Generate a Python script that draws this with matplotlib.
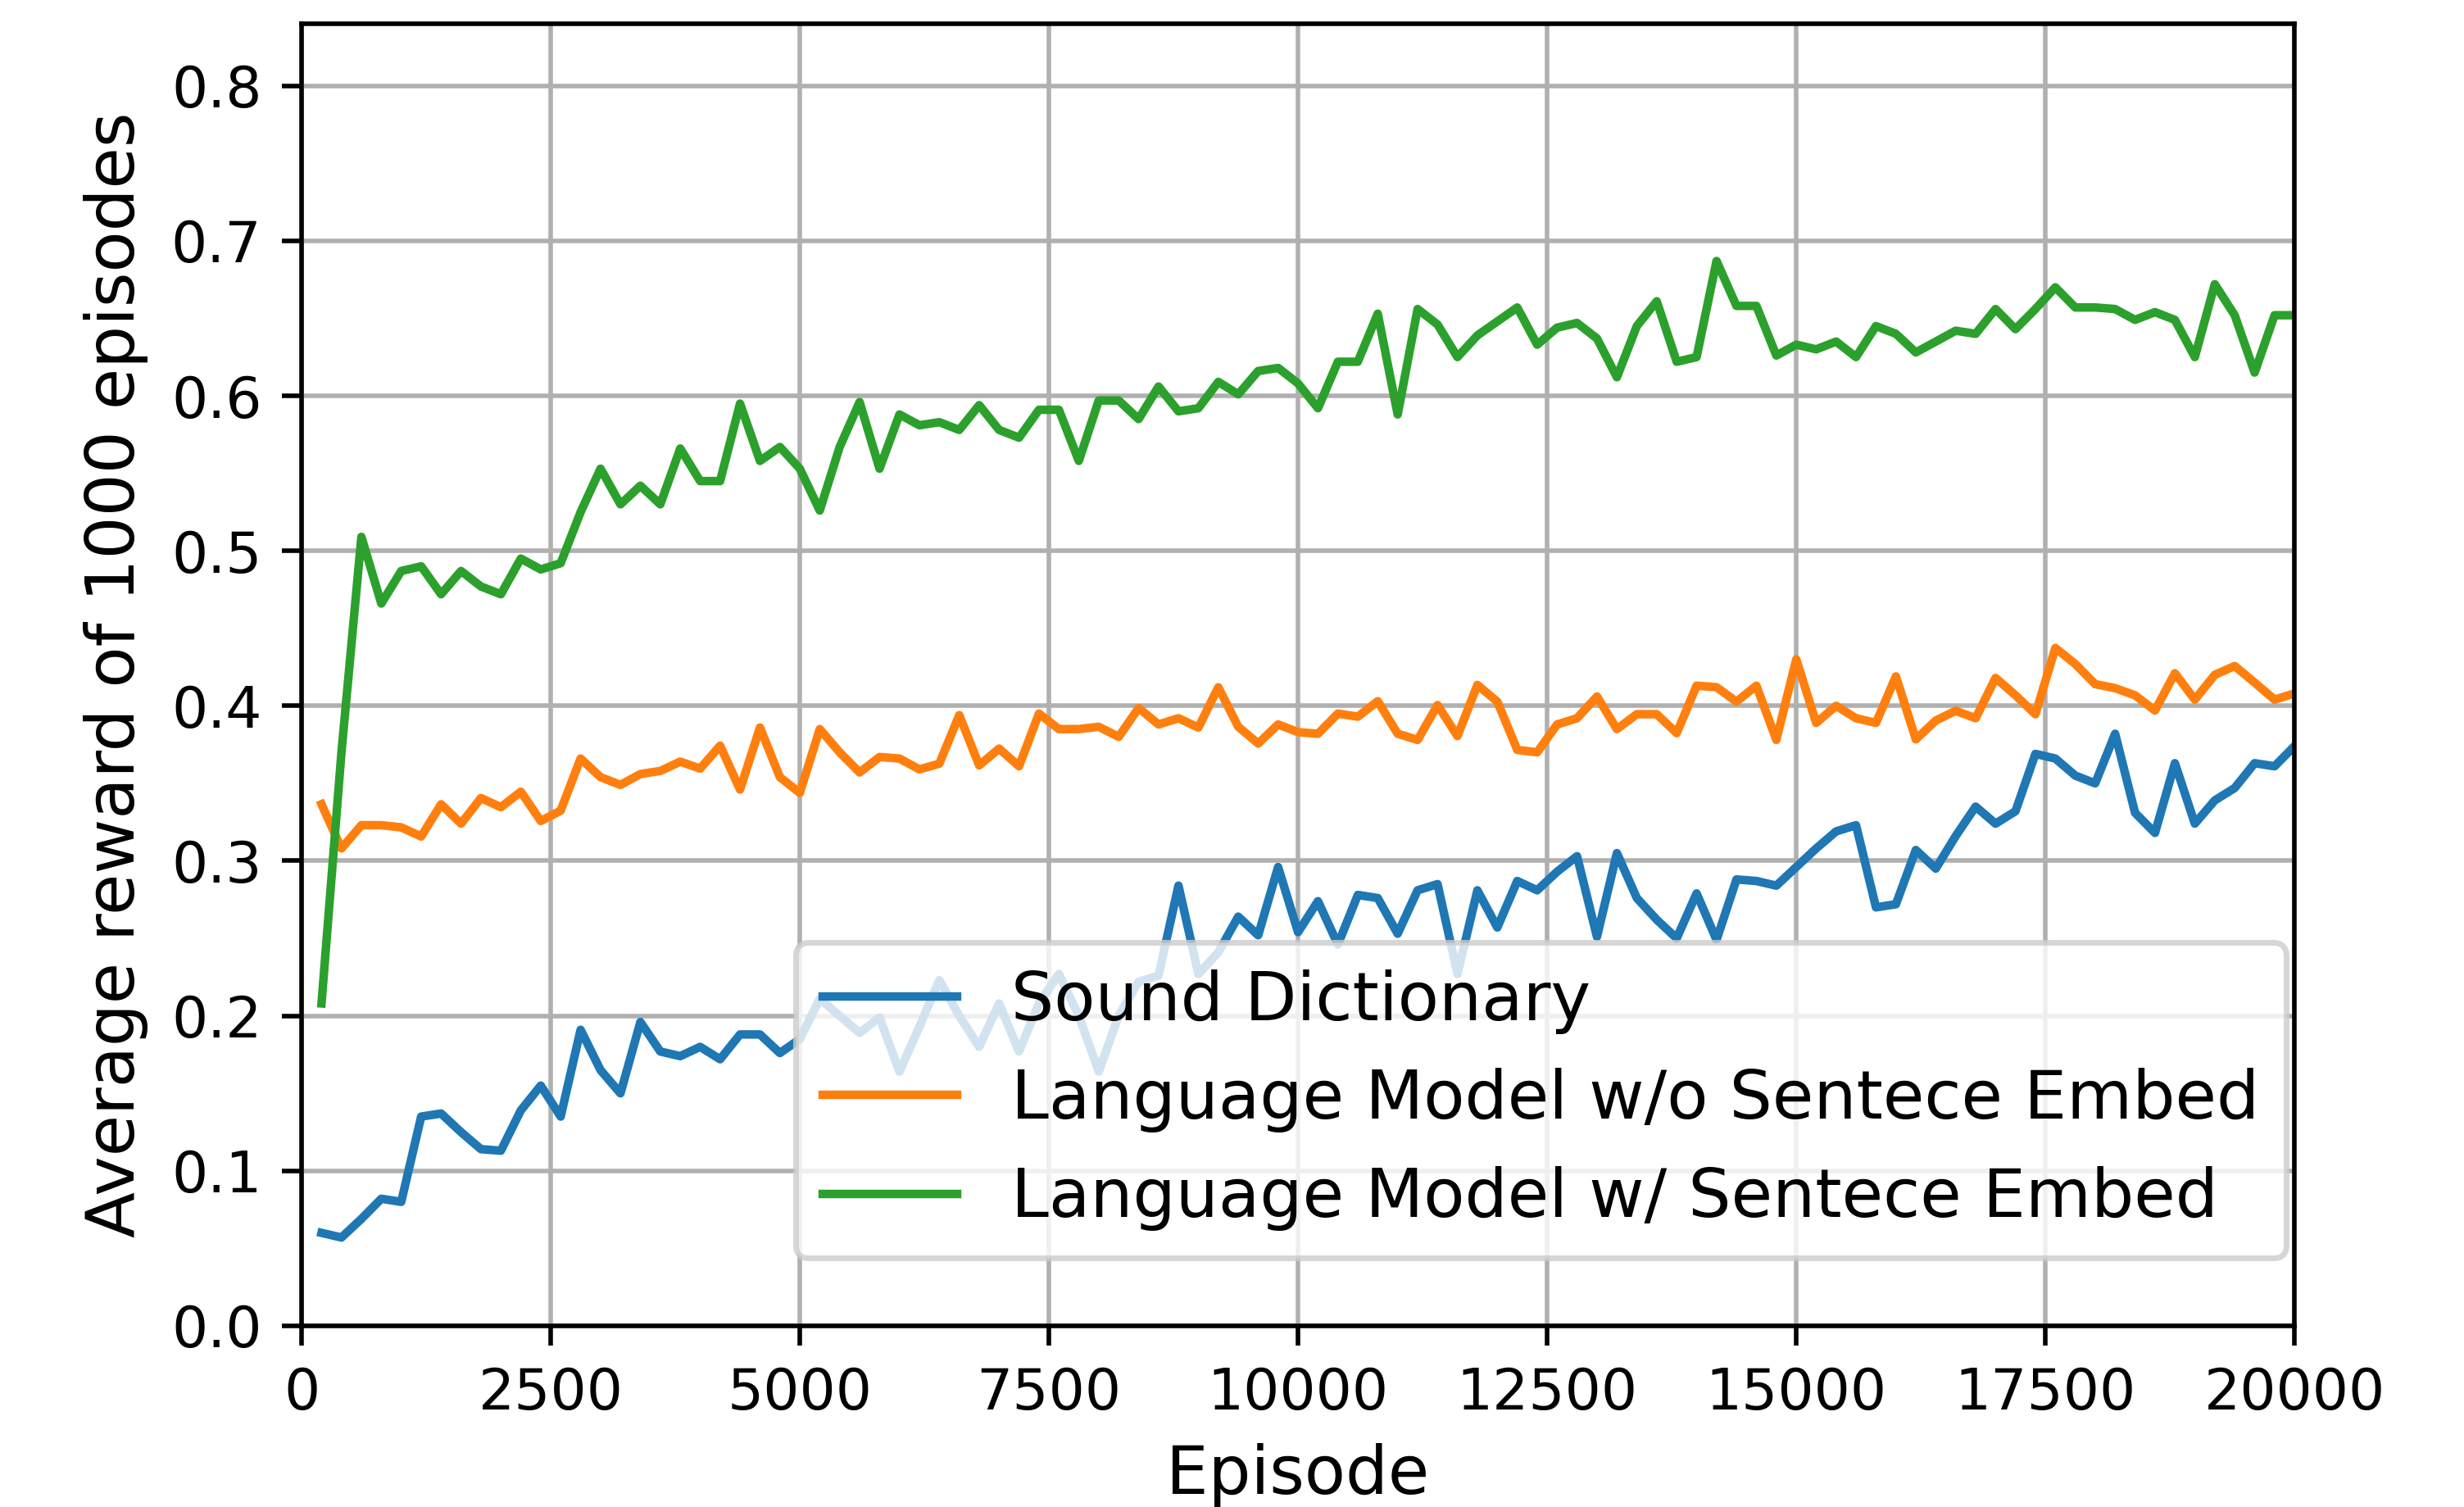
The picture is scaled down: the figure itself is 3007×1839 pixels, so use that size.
import numpy as np
import matplotlib
matplotlib.use("Agg")
import matplotlib.pyplot as plt

# episodes at which the running average was logged
episodes = np.arange(200, 20001, 200)

sound_dictionary = [
    0.060, 0.057, 0.069, 0.082, 0.080, 0.135, 0.137, 0.125, 0.114, 0.113,
    0.139, 0.155, 0.135, 0.191, 0.165, 0.150, 0.196, 0.177, 0.174, 0.180,
    0.172, 0.188, 0.188, 0.176, 0.185, 0.211, 0.200, 0.189, 0.199, 0.164,
    0.193, 0.223, 0.200, 0.180, 0.208, 0.177, 0.208, 0.227, 0.200, 0.164,
    0.200, 0.222, 0.226, 0.284, 0.227, 0.241, 0.264, 0.252, 0.296, 0.254,
    0.274, 0.246, 0.278, 0.276, 0.253, 0.281, 0.285, 0.227, 0.281, 0.257,
    0.287, 0.281, 0.293, 0.303, 0.251, 0.305, 0.276, 0.262, 0.250, 0.279,
    0.249, 0.288, 0.287, 0.284, 0.296, 0.308, 0.319, 0.323, 0.270, 0.272,
    0.307, 0.295, 0.316, 0.335, 0.324, 0.332, 0.369, 0.366, 0.355, 0.350,
    0.382, 0.331, 0.318, 0.363, 0.324, 0.339, 0.347, 0.363, 0.361, 0.374,
]

lm_without_embed = [
    0.3365, 0.308, 0.323, 0.323, 0.3216, 0.3157, 0.3365, 0.324, 0.3405, 0.3346,
    0.3446, 0.3257, 0.3324, 0.366, 0.354, 0.349, 0.356, 0.358, 0.364, 0.3595,
    0.3743, 0.346, 0.386, 0.354, 0.3438, 0.385, 0.370, 0.357, 0.367, 0.366,
    0.359, 0.3627, 0.394, 0.3616, 0.3724, 0.361, 0.395, 0.385, 0.385, 0.3865,
    0.380, 0.3986, 0.388, 0.392, 0.386, 0.412, 0.3865, 0.3757, 0.388, 0.383,
    0.382, 0.395, 0.393, 0.403, 0.382, 0.378, 0.4005, 0.3805, 0.4135, 0.4027,
    0.3716, 0.370, 0.388, 0.392, 0.406, 0.385, 0.3946, 0.3946, 0.3824, 0.413,
    0.412, 0.4027, 0.413, 0.378, 0.430, 0.389, 0.400, 0.392, 0.389, 0.419,
    0.3784, 0.3905, 0.3968, 0.392, 0.418, 0.4068, 0.3946, 0.4373, 0.427, 0.414,
    0.4114, 0.4068, 0.397, 0.421, 0.404, 0.420, 0.4257, 0.415, 0.404, 0.408,
]

lm_with_embed = [
    0.208, 0.370, 0.509, 0.466, 0.487, 0.490, 0.472, 0.487, 0.477, 0.472,
    0.495, 0.488, 0.492, 0.525, 0.553, 0.530, 0.542, 0.530, 0.566, 0.545,
    0.545, 0.595, 0.558, 0.567, 0.553, 0.526, 0.567, 0.596, 0.553, 0.588,
    0.581, 0.583, 0.578, 0.594, 0.578, 0.573, 0.591, 0.591, 0.558, 0.597,
    0.597, 0.585, 0.606, 0.590, 0.592, 0.609, 0.601, 0.616, 0.618, 0.608,
    0.592, 0.622, 0.622, 0.653, 0.588, 0.656, 0.646, 0.625, 0.639, 0.648,
    0.657, 0.633, 0.644, 0.647, 0.637, 0.612, 0.645, 0.661, 0.622, 0.625,
    0.687, 0.658, 0.658, 0.626, 0.633, 0.630, 0.635, 0.625, 0.645, 0.640,
    0.628, 0.635, 0.642, 0.640, 0.656, 0.643, 0.656, 0.670, 0.657, 0.657,
    0.656, 0.649, 0.654, 0.649, 0.625, 0.672, 0.652, 0.615, 0.652, 0.652,
]

labels = ["Sound Dictionary",
          "Language Model w/o Sentece Embed",
          "Language Model w/ Sentece Embed"]

fig, ax = plt.subplots(figsize=(3007 / 500, 1839 / 500))
fig.subplots_adjust(left=0.1224, right=0.9312, bottom=0.1202, top=0.9842)

ax.plot(episodes, sound_dictionary, label=labels[0])
ax.plot(episodes, lm_without_embed, label=labels[1])
ax.plot(episodes, lm_with_embed, label=labels[2])

ax.set_xlim(0, 20000)
ax.set_ylim(0, 0.84)
ax.set_yticks(np.arange(0, 0.81, 0.1))
ax.set_xlabel("Episode", fontsize=11.8)
ax.set_ylabel("Average reward of 1000 episodes", fontsize=11.8)
ax.grid()
ax.legend(loc="lower right", bbox_to_anchor=(0.996, 0.052), borderaxespad=0,
          fontsize=11.85)

fig.savefig("out.png", dpi=500)
